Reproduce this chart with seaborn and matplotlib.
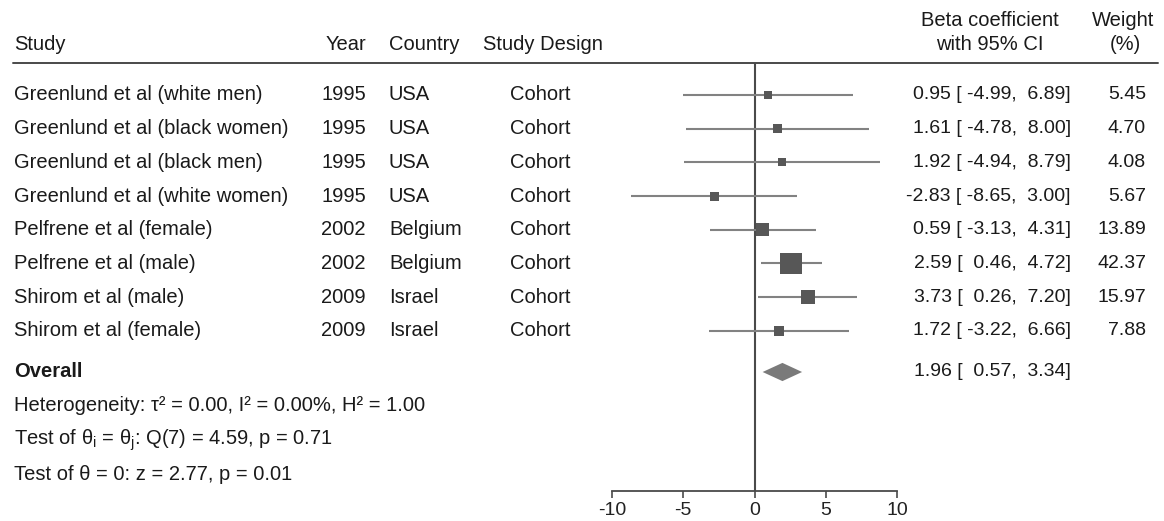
import matplotlib
matplotlib.use("Agg")
import matplotlib.pyplot as plt
import matplotlib.transforms as mtransforms
from matplotlib.lines import Line2D
import seaborn as sns
import pandas as pd

# ---------------- data ----------------
studies = ["Greenlund et al (white men)", "Greenlund et al (black women)",
           "Greenlund et al (black men)", "Greenlund et al (white women)",
           "Pelfrene et al (female)", "Pelfrene et al (male)",
           "Shirom et al (male)", "Shirom et al (female)"]
years = ["1995", "1995", "1995", "1995", "2002", "2002", "2009", "2009"]
countries = ["USA", "USA", "USA", "USA", "Belgium", "Belgium", "Israel", "Israel"]
designs = ["Cohort"] * 8
beta = [0.95, 1.61, 1.92, -2.83, 0.59, 2.59, 3.73, 1.72]
ci_low = [-4.99, -4.78, -4.94, -8.65, -3.13, 0.46, 0.26, -3.22]
ci_high = [6.89, 8.00, 8.79, 3.00, 4.31, 4.72, 7.20, 6.66]
weights = [5.45, 4.70, 4.08, 5.67, 13.89, 42.37, 15.97, 7.88]
overall_beta = 1.96
overall_low = 0.57
overall_high = 3.34
x_ticks = [-10, -5, 0, 5, 10]
stats_lines = ["Heterogeneity: τ² = 0.00, I² = 0.00%, H² = 1.00",
               r"Test of θ$_\mathregular{i}$ = θ$_\mathregular{j}$: Q(7) = 4.59, p = 0.71",
               "Test of θ = 0: z = 2.77, p = 0.01"]

# ---------------- style ----------------
sns.set_theme(style="white")
plt.rcParams["font.family"] = ["Liberation Sans", "DejaVu Sans"]
plt.rcParams["mathtext.default"] = "regular"

W, H = 1164, 521
fig = plt.figure(figsize=(W / 100, H / 100), dpi=100)
fig.patch.set_facecolor("white")

# axes geometry in pixels
x_left, x_right = 612, 897
y_top, y_bot = 63, 491
row0, row_step = 95, 33.7

ax = fig.add_axes([x_left / W, 1 - y_bot / H, (x_right - x_left) / W, (y_bot - y_top) / H])
ax.set_xlim(-10, 10)
ax.set_ylim((y_bot - row0) / row_step, (y_top - row0) / row_step)
ax.set_facecolor("none")

df = pd.DataFrame({"study": studies, "beta": beta, "lo": ci_low, "hi": ci_high,
                   "w": weights})
df["row"] = range(len(df))

line_col = "#828282"
box_col = "#575757"
dark = "#4a4a4a"

ax.axvline(0, color=dark, lw=1.5, zorder=1)
ax.hlines(df["row"], df["lo"], df["hi"], color=line_col, lw=1.5, zorder=2)
wmax = max(weights)
sns.scatterplot(data=df, x="beta", y="row", size="w", sizes=(10, 250),
                size_norm=(0, wmax), marker="s", color=box_col, linewidth=0,
                legend=False, ax=ax, zorder=3)

overall_row = (372 - row0) / row_step
dh = 0.27
ax.fill([overall_low, overall_beta, overall_high, overall_beta],
        [overall_row, overall_row - dh, overall_row, overall_row + dh],
        color="#7a7a7a", lw=0, zorder=3)

for s in ["top", "right", "left"]:
    ax.spines[s].set_visible(False)
ax.spines["bottom"].set_color(dark)
ax.spines["bottom"].set_linewidth(1.3)
ax.set_yticks([])
ax.set_xticks(x_ticks)
ax.set_xticklabels([str(t) for t in x_ticks], fontsize=14, color="#222222")
ax.tick_params(axis="x", direction="out", length=5, width=1.2, color=dark, pad=3,
               bottom=True)
ax.set_xlabel("")
ax.set_ylabel("")

# header rule
fig.add_artist(Line2D([13 / W, 1158 / W], [1 - y_top / H, 1 - y_top / H],
                      color=dark, lw=1.4))

tr = mtransforms.blended_transform_factory(fig.transFigure, ax.transData)
txt_col = "#1a1a1a"
fs = 14.5
fsn = 14.0

# headers
hy = 1 - 45 / H
fig.text(14 / W, hy, "Study", fontsize=fs, va="center", ha="left", color=txt_col)
fig.text(366 / W, hy, "Year", fontsize=fs, va="center", ha="right", color=txt_col)
fig.text(389 / W, hy, "Country", fontsize=fs, va="center", ha="left", color=txt_col)
fig.text(483 / W, hy, "Study Design", fontsize=fs, va="center", ha="left", color=txt_col)
fig.text(990 / W, 1 - 20 / H, "Beta coefficient", fontsize=fs, va="center", ha="center", color=txt_col)
fig.text(990 / W, hy, "with 95% CI", fontsize=fs, va="center", ha="center", color=txt_col)
fig.text(1123 / W, 1 - 20 / H, "Weight", fontsize=fs, va="center", ha="center", color=txt_col)
fig.text(1125 / W, hy, "(%)", fontsize=fs, va="center", ha="center", color=txt_col)

for i in range(len(studies)):
    ax.text(14 / W, i, studies[i], transform=tr, fontsize=fs, va="center", ha="left", color=txt_col)
    ax.text(366 / W, i, years[i], transform=tr, fontsize=fs, va="center", ha="right", color=txt_col)
    ax.text(389 / W, i, countries[i], transform=tr, fontsize=fs, va="center", ha="left", color=txt_col)
    ax.text(540 / W, i, designs[i], transform=tr, fontsize=fs, va="center", ha="center", color=txt_col)
    ax.text(1071 / W, i, f"{beta[i]:.2f} [{ci_low[i]:6.2f}, {ci_high[i]:5.2f}]",
            transform=tr, fontsize=fsn, va="center", ha="right", color=txt_col)
    ax.text(1146 / W, i, f"{weights[i]:.2f}", transform=tr, fontsize=fsn,
            va="center", ha="right", color=txt_col)

ax.text(14 / W, overall_row, "Overall", transform=tr, fontsize=fs, fontweight="bold",
        va="center", ha="left", color=txt_col)
ax.text(1071 / W, overall_row, f"{overall_beta:.2f} [{overall_low:6.2f}, {overall_high:5.2f}]",
        transform=tr, fontsize=fsn, va="center", ha="right", color=txt_col)

for k, line in enumerate(stats_lines):
    yy = (406 + 34.5 * k - row0) / row_step
    ax.text(14 / W, yy, line, transform=tr, fontsize=fs, va="center", ha="left", color=txt_col)

fig.savefig("out.png", dpi=100, facecolor="white")
